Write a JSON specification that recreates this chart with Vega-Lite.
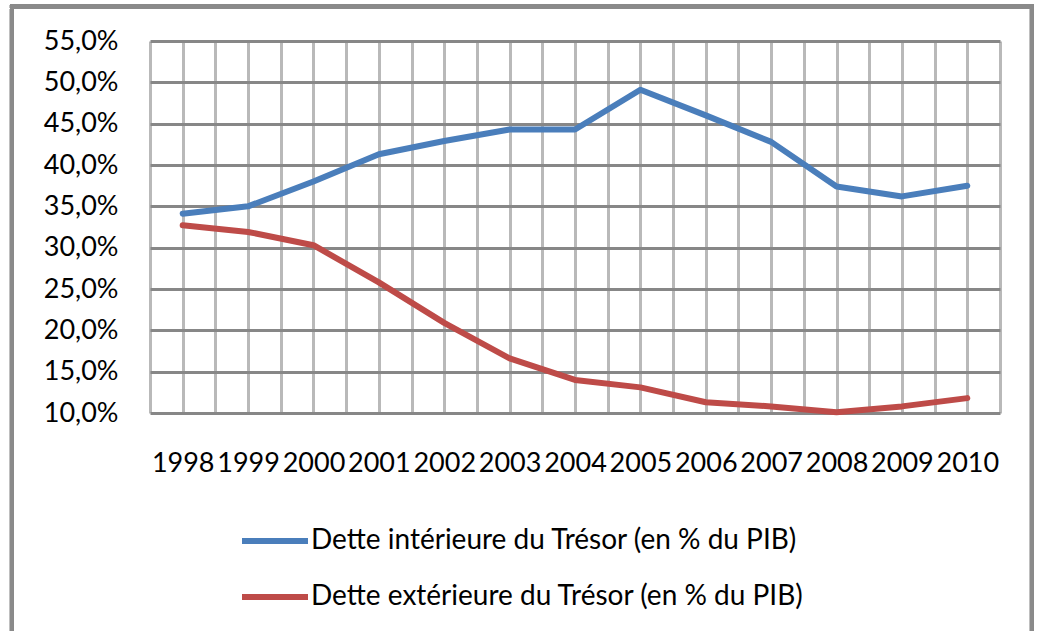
{
  "$schema": "https://vega.github.io/schema/vega-lite/v6.json",
  "width": 850,
  "height": 372,
  "autosize": {"type": "none"},
  "padding": {"left": 150, "top": 41, "right": 39, "bottom": 218},
  "background": "white",
  "config": {
    "view": {"stroke": null},
    "font": "Lato",
    "axis": {"labelFont": "Lato", "labelFontSize": 27, "labelColor": "#000000", "domain": false, "ticks": false, "title": null},
    "legend": {"labelFont": "Lato", "labelFontSize": 28, "labelColor": "#000000"}
  },
  "data": {
    "values": [
      {"year": 1998, "serie": "Dette intérieure du Trésor (en % du PIB)", "value": 34.1},
      {"year": 1999, "serie": "Dette intérieure du Trésor (en % du PIB)", "value": 35.0},
      {"year": 2000, "serie": "Dette intérieure du Trésor (en % du PIB)", "value": 38.0},
      {"year": 2001, "serie": "Dette intérieure du Trésor (en % du PIB)", "value": 41.3},
      {"year": 2002, "serie": "Dette intérieure du Trésor (en % du PIB)", "value": 42.9},
      {"year": 2003, "serie": "Dette intérieure du Trésor (en % du PIB)", "value": 44.3},
      {"year": 2004, "serie": "Dette intérieure du Trésor (en % du PIB)", "value": 44.3},
      {"year": 2005, "serie": "Dette intérieure du Trésor (en % du PIB)", "value": 49.1},
      {"year": 2006, "serie": "Dette intérieure du Trésor (en % du PIB)", "value": 46.0},
      {"year": 2007, "serie": "Dette intérieure du Trésor (en % du PIB)", "value": 42.8},
      {"year": 2008, "serie": "Dette intérieure du Trésor (en % du PIB)", "value": 37.4},
      {"year": 2009, "serie": "Dette intérieure du Trésor (en % du PIB)", "value": 36.2},
      {"year": 2010, "serie": "Dette intérieure du Trésor (en % du PIB)", "value": 37.5},
      {"year": 1998, "serie": "Dette extérieure du Trésor (en % du PIB)", "value": 32.7},
      {"year": 1999, "serie": "Dette extérieure du Trésor (en % du PIB)", "value": 31.9},
      {"year": 2000, "serie": "Dette extérieure du Trésor (en % du PIB)", "value": 30.3},
      {"year": 2001, "serie": "Dette extérieure du Trésor (en % du PIB)", "value": 25.8},
      {"year": 2002, "serie": "Dette extérieure du Trésor (en % du PIB)", "value": 20.9},
      {"year": 2003, "serie": "Dette extérieure du Trésor (en % du PIB)", "value": 16.6},
      {"year": 2004, "serie": "Dette extérieure du Trésor (en % du PIB)", "value": 14.0},
      {"year": 2005, "serie": "Dette extérieure du Trésor (en % du PIB)", "value": 13.1},
      {"year": 2006, "serie": "Dette extérieure du Trésor (en % du PIB)", "value": 11.3},
      {"year": 2007, "serie": "Dette extérieure du Trésor (en % du PIB)", "value": 10.8},
      {"year": 2008, "serie": "Dette extérieure du Trésor (en % du PIB)", "value": 10.1},
      {"year": 2009, "serie": "Dette extérieure du Trésor (en % du PIB)", "value": 10.8},
      {"year": 2010, "serie": "Dette extérieure du Trésor (en % du PIB)", "value": 11.8}
    ]
  },
  "layer": [
    {
      "mark": {"type": "line", "strokeWidth": 6, "strokeCap": "round", "strokeJoin": "round"},
      "encoding": {
        "x": {
          "field": "year", "type": "quantitative",
          "scale": {"domain": [1997.5, 2010.5], "nice": false, "zero": false},
          "axis": {
            "values": [1997.5, 1998, 1998.5, 1999, 1999.5, 2000, 2000.5, 2001, 2001.5, 2002, 2002.5, 2003, 2003.5, 2004, 2004.5, 2005, 2005.5, 2006, 2006.5, 2007, 2007.5, 2008, 2008.5, 2009, 2009.5, 2010, 2010.5],
            "tickCount": 40,
            "labelExpr": "datum.value == floor(datum.value) ? '' + datum.value : ''",
            "labelOverlap": false,
            "labelFlush": false,
            "labelBound": false,
            "labelPadding": 37,
            "grid": true,
            "gridColor": "#b9b9b9",
            "gridWidth": 3,
            "gridOpacity": 1
          }
        },
        "y": {
          "field": "value", "type": "quantitative",
          "scale": {"domain": [10, 55], "nice": false, "zero": false},
          "axis": {
            "values": [10, 15, 20, 25, 30, 35, 40, 45, 50, 55],
            "tickCount": 20,
            "labelExpr": "replace(format(datum.value, '.1f'), '.', ',') + '%'",
            "labelPadding": 32,
            "grid": true,
            "gridColor": "#878787",
            "gridWidth": 3,
            "gridOpacity": 1
          }
        },
        "color": {
          "field": "serie", "type": "nominal",
          "scale": {"domain": ["Dette intérieure du Trésor (en % du PIB)", "Dette extérieure du Trésor (en % du PIB)"], "range": ["#4a7ebb", "#be4b48"]},
          "legend": {
            "title": null,
            "orient": "none",
            "legendX": 89,
            "legendY": 464,
            "symbolType": "stroke",
            "symbolSize": 4356,
            "symbolStrokeWidth": 6,
            "labelOffset": 0,
            "labelLimit": 0,
            "rowPadding": 6,
            "direction": "vertical"
          }
        }
      }
    },
    {
      "mark": {"type": "rect", "fill": "white", "fillOpacity": 0, "stroke": "#8a8a8a", "strokeWidth": 4},
      "encoding": {
        "x": {"datum": 1995.389, "type": "quantitative"},
        "x2": {"datum": 2010.989},
        "y": {"datum": 59.17, "type": "quantitative"},
        "y2": {"datum": -17.5}
      }
    }
  ]
}
